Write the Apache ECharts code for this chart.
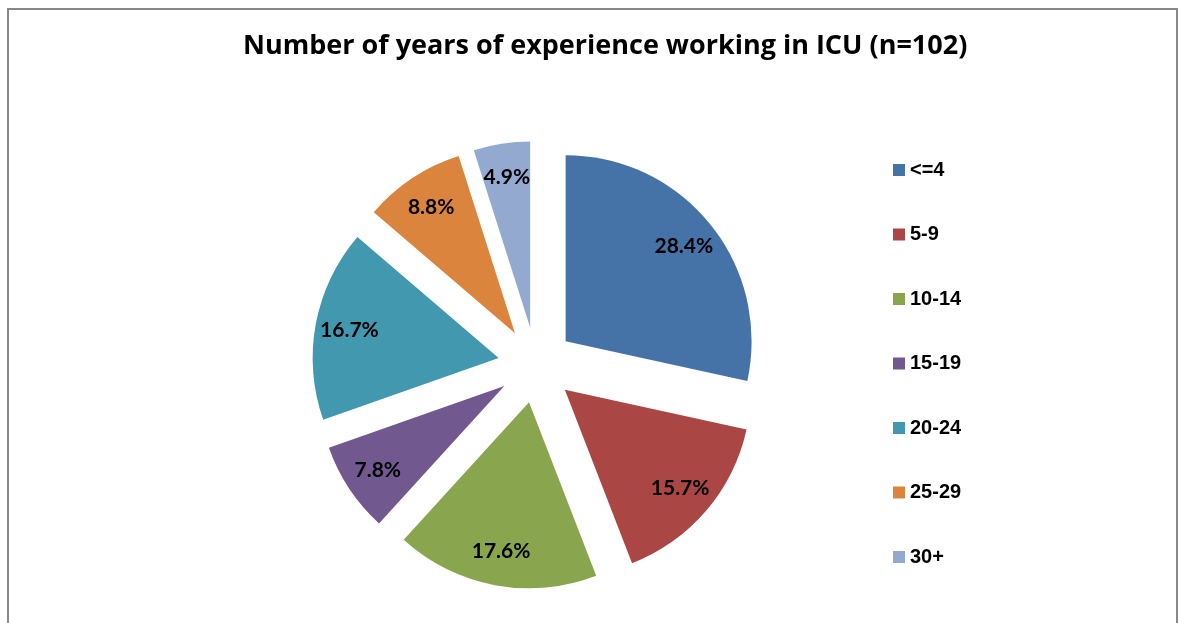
<!DOCTYPE html>
<html>
<head>
<meta charset="utf-8">
<script src="https://cdn.jsdelivr.net/npm/echarts@6/dist/echarts.min.js"></script>
<style>
html,body{margin:0;padding:0;background:#fff;}
#chart{width:1182px;height:623px;}
</style>
</head>
<body>
<div id="chart"></div>
<script>
const categories = ['<=4', '5-9', '10-14', '15-19', '20-24', '25-29', '30+'];
const counts = [29, 16, 18, 8, 17, 9, 5];
const colors = ['#4572A7', '#AA4643', '#89A54E', '#71588F', '#4198AF', '#DB843D', '#93A9CF'];
const titleText = 'Number of years of experience working in ICU (n=102)';
const total = counts.reduce((a, b) => a + b, 0);

const chart = echarts.init(document.getElementById('chart'));
const data = categories.map((c, i) => ({
  name: c, value: counts[i], selected: true,
  itemStyle: { color: colors[i] }
}));
const center = [536, 365];
const R = 186;
const offset = 38;

chart.setOption({
  animation: false,
  title: {
    text: titleText,
    left: 238,
    top: 28,
    textStyle: { fontFamily: 'Open Sans', fontWeight: 'bold', fontSize: 27, color: '#000' }
  },
  legend: {
    orient: 'vertical',
    left: 888,
    top: 154,
    itemWidth: 12,
    itemHeight: 12,
    itemGap: 42.5,
    icon: 'rect',
    selectedMode: false,
    data: categories,
    textStyle: { fontFamily: 'Liberation Sans', fontWeight: 'bold', fontSize: 20, color: '#000', lineHeight: 22 }
  },
  graphic: [{
    type: 'rect',
    shape: { x: 8, y: 9, width: 1169, height: 700 },
    style: { fill: 'none', stroke: '#888', lineWidth: 2 },
    silent: true
  }],
  series: [{
    type: 'pie',
    center: center,
    radius: R,
    startAngle: 90,
    clockwise: true,
    selectedMode: 'multiple',
    selectedOffset: offset,
    avoidLabelOverlap: false,
    label: { show: false },
    labelLine: { show: false },
    itemStyle: { borderWidth: 0 },
    emphasis: { disabled: true },
    select: { itemStyle: { borderWidth: 0 } },
    data: data
  }, {
    type: 'pie',
    center: center,
    radius: [R * 0.6, R],
    startAngle: 90,
    clockwise: true,
    selectedMode: 'multiple',
    selectedOffset: offset,
    avoidLabelOverlap: false,
    silent: true,
    itemStyle: { color: 'rgba(0,0,0,0)', borderWidth: 0 },
    label: {
      show: true, position: 'inside',
      formatter: p => (p.value / total * 100).toFixed(1) + '%',
      fontFamily: 'Lato', fontWeight: 'bold', fontSize: 21, color: '#000'
    },
    labelLine: { show: false },
    emphasis: { disabled: true },
    data: categories.map((c, i) => ({ name: c, value: counts[i], selected: true }))
  }]
});
</script>
</body>
</html>
